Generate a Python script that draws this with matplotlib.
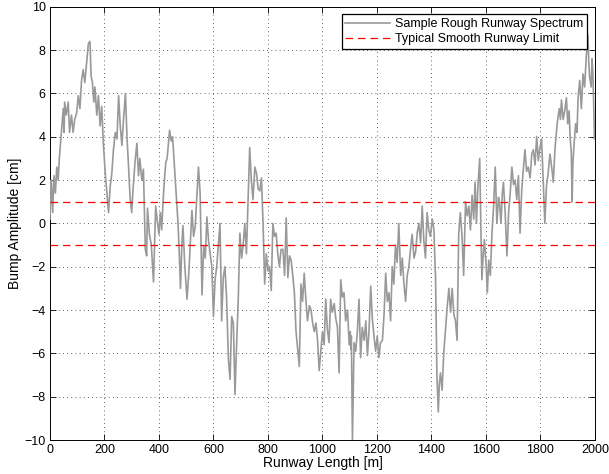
import matplotlib
matplotlib.use("Agg")
import matplotlib.pyplot as plt

plt.rcParams['font.family'] = ['Liberation Sans', 'DejaVu Sans']

# Runway length [m] and bump amplitude [cm]
runway_x = [0, 3, 5, 10, 15, 20, 25, 30, 35, 40, 44, 49, 52, 54, 60, 67, 72, 79, 85, 91, 98, 104,
            110, 116, 122, 128, 135, 141, 147, 151, 156, 161, 165, 172, 178, 184, 190, 196, 203,
            209, 215, 221, 227, 233, 240, 246, 252, 258, 264, 270, 277, 283, 289, 294, 300, 305,
            312, 319, 325, 330, 337, 343, 350, 355, 358, 365, 372, 380, 384, 388, 395, 400, 405,
            410, 415, 420, 425, 430, 439, 445, 450, 455, 460, 465, 470, 475, 479, 484, 488, 495,
            503, 510, 521, 527, 533, 539, 545, 551, 558, 564, 570, 576, 582, 588, 594, 600, 606,
            612, 618, 624, 630, 636, 642, 648, 655, 661, 667, 673, 679, 685, 691, 697, 703, 709,
            715, 721, 727, 733, 739, 745, 752, 758, 764, 770, 776, 782, 788, 794, 800, 806, 812,
            818, 824, 830, 836, 842, 848, 855, 861, 867, 873, 879, 885, 891, 897, 903, 909, 915,
            921, 927, 933, 939, 945, 952, 958, 964, 970, 976, 982, 988, 994, 1000, 1006, 1012,
            1018, 1024, 1030, 1036, 1043, 1049, 1055, 1061, 1067, 1073, 1079, 1085, 1092, 1098,
            1102, 1104, 1106, 1110, 1116, 1122, 1128, 1134, 1140, 1146, 1153, 1159, 1165, 1171,
            1177, 1183, 1189, 1195, 1201, 1207, 1213, 1220, 1226, 1232, 1238, 1244, 1250, 1256,
            1262, 1268, 1274, 1280, 1287, 1293, 1299, 1305, 1311, 1317, 1323, 1329, 1336, 1342,
            1348, 1354, 1360, 1366, 1372, 1378, 1384, 1390, 1396, 1403, 1409, 1413, 1415, 1420,
            1425, 1429, 1433, 1439, 1445, 1451, 1458, 1464, 1470, 1476, 1482, 1488, 1494, 1500,
            1506, 1512, 1518, 1525, 1531, 1537, 1543, 1549, 1555, 1560, 1565, 1570, 1577, 1581,
            1585, 1590, 1594, 1601, 1605, 1610, 1616, 1622, 1628, 1634, 1640, 1646, 1650, 1655,
            1660, 1664, 1670, 1677, 1683, 1689, 1695, 1701, 1707, 1713, 1719, 1725, 1731, 1737,
            1743, 1749, 1755, 1762, 1768, 1774, 1780, 1786, 1792, 1798, 1804, 1810, 1816, 1822,
            1828, 1835, 1841, 1847, 1853, 1859, 1864, 1869, 1873, 1877, 1883, 1889, 1895, 1900,
            1905, 1909, 1913, 1916, 1919, 1924, 1929, 1934, 1938, 1944, 1950, 1956, 1962, 1968,
            1971, 1974, 1977, 1980, 1986, 1989, 1992, 1995, 1998, 2000]
bump_cm = [0.2, 1.4, 2.0, 0.5, 2.2, 1.4, 2.6, 2.0, 3.1, 3.9, 4.5, 5.3, 4.2, 5.6, 5.0, 5.6, 4.2,
           5.0, 4.2, 4.8, 5.1, 5.9, 5.3, 6.6, 7.1, 6.5, 7.5, 8.3, 8.4, 6.8, 6.5, 5.6, 6.3, 5.0,
           5.9, 4.5, 5.4, 3.7, 2.3, 1.4, 0.5, 1.7, 2.3, 3.4, 4.2, 3.9, 5.9, 4.5, 3.6, 4.8, 6.0,
           3.9, 2.5, 1.2, 0.5, 1.6, 2.8, 3.7, 2.2, 3.0, 2.0, 2.5, -1.2, -1.5, 0.7, -0.5, -1.0,
           -2.7, -1.0, 0.8, 0.0, -0.5, 0.5, -0.3, 1.0, 2.0, 2.8, 3.0, 4.3, 3.8, 4.0, 3.0, 2.0,
           1.0, 0.0, -1.5, -3.0, -1.0, -0.1, -2.0, -3.5, -2.2, 0.6, -0.6, -0.15, 1.2, 2.6, 1.4,
           -3.3, -1.05, -1.6, 0.3, -0.8, -1.4, -2.0, -4.3, -2.6, -2.0, -1.0, 0.0, -4.5, -2.5,
           -2.0, -3.4, -6.3, -7.2, -4.3, -4.6, -7.9, -5.6, -3.5, -0.45, -1.6, -1.0, 0.0, -1.4,
           1.0, 3.5, 2.0, 1.1, 2.6, 2.3, 1.6, 1.5, 2.1, 0.0, -2.8, -1.4, -2.2, -2.0, -3.1, 0.0,
           -0.6, -0.45, -1.4, -2.0, -1.2, -1.2, -2.4, 0.25, -2.5, -1.5, -1.7, -2.4, -3.2, -5.0,
           -5.8, -6.6, -2.8, -3.6, -2.3, -3.5, -4.5, -3.8, -4.0, -4.6, -5.0, -4.6, -5.4, -6.8,
           -5.9, -5.0, -5.6, -3.5, -4.9, -5.5, -3.5, -4.1, -3.7, -4.4, -4.8, -6.9, -2.6, -3.4,
           -3.2, -4.5, -4.0, -5.6, -5.0, -5.8, -5.2, -10.0, -5.5, -5.9, -5.0, -3.5, -6.2, -4.8,
           -5.4, -4.5, -6.1, -4.9, -2.9, -4.4, -5.2, -5.9, -5.2, -6.2, -5.5, -5.4, -4.2, -2.3,
           -3.6, -3.2, -4.5, -2.0, -2.8, -1.0, -1.8, 0.0, -2.4, -1.6, -2.8, -3.6, -2.4, -2.0,
           -1.2, -0.5, -1.6, -1.3, -0.4, 0.0, -0.9, 0.8, -0.8, -1.6, 0.5, -0.3, -0.6, 0.2, -0.3,
           -1.9, -2.5, -7.0, -8.7, -7.4, -6.9, -7.7, -6.0, -5.0, -3.8, -3.0, -4.1, -3.0, -4.2,
           -4.5, -5.4, -0.45, 0.5, -0.6, -2.4, 1.0, 0.35, 0.8, -0.3, 1.3, 0.2, 1.9, 0.0, 1.6,
           3.0, 0.0, -2.6, -1.4, -0.75, -2.0, -3.2, -1.7, -2.4, -0.45, 0.8, 2.6, 0.0, 1.2, 0.9,
           0.0, 1.4, 1.9, 0.6, -1.5, 0.5, 1.4, 2.6, 1.8, 2.0, 1.1, 2.2, -0.45, 1.5, 2.5, 3.4,
           2.4, 2.6, 2.1, 3.2, 3.4, 2.7, 4.0, 2.9, 3.5, 3.9, 2.0, 0.0, 1.75, 2.3, 3.2, 2.6, 1.9,
           3.4, 4.3, 4.9, 5.3, 4.8, 5.7, 4.8, 5.2, 5.8, 4.6, 5.2, 3.9, 3.3, 1.0, 2.8, 3.8, 4.6,
           4.2, 5.8, 6.6, 5.3, 6.9, 6.3, 7.7, 8.2, 8.7, 7.5, 6.8, 6.3, 7.6, 7.0, 5.6, 3.9, 4.2]

limit_cm = [1.0, -1.0]
x_ticks = [0, 200, 400, 600, 800, 1000, 1200, 1400, 1600, 1800, 2000]
y_ticks = [-10, -8, -6, -4, -2, 0, 2, 4, 6, 8, 10]

fig = plt.figure(figsize=(6.09, 4.74), dpi=100)
ax = fig.add_axes([0.082, 0.0717, 0.895, 0.914])

ax.plot(runway_x, bump_cm, color='#999999', linewidth=1.2,
        label='Sample Rough Runway Spectrum', zorder=3)
for i, lv in enumerate(limit_cm):
    ax.axhline(lv, color='#ff0000', linestyle=(0, (6, 4)), linewidth=0.9,
               label='Typical Smooth Runway Limit' if i == 0 else None, zorder=4)

ax.set_xlim(0, 2000)
ax.set_ylim(-10, 10)
ax.set_xticks(x_ticks)
ax.set_yticks(y_ticks)
ax.tick_params(direction='in', length=4, width=0.6, labelsize=9, top=True, right=True,
               pad=3)
ax.grid(True, color='black', linestyle=(0, (1, 4)), linewidth=0.6, alpha=0.8)
for s in ax.spines.values():
    s.set_linewidth(0.7)
ax.set_xlabel('Runway Length [m]', fontsize=10, labelpad=0)
ax.set_ylabel('Bump Amplitude [cm]', fontsize=10, labelpad=2)

leg = ax.legend(loc='upper right', fontsize=9, fancybox=False, framealpha=1,
                edgecolor='black', borderpad=0.3, handlelength=3.6, handletextpad=0.4,
                labelspacing=0.25, borderaxespad=0.6)
leg.get_frame().set_linewidth(0.9)

fig.savefig('out.png', dpi=100)
